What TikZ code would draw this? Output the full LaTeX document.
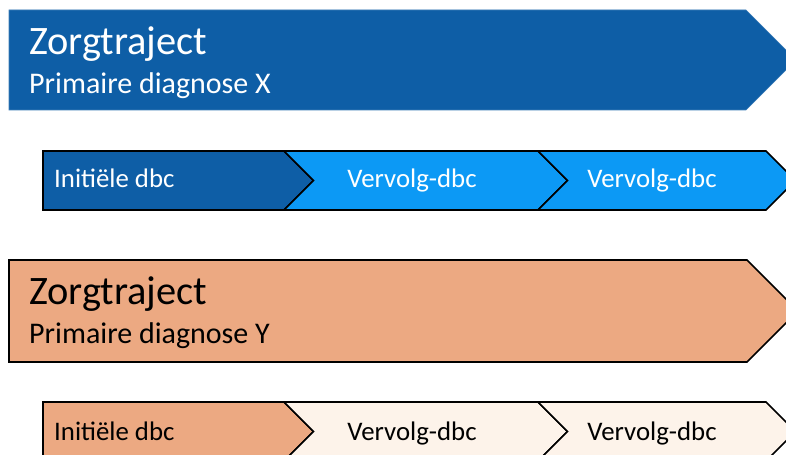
\documentclass[tikz,border=0pt]{standalone}
\usepackage{fontspec}
\setmainfont{Carlito}
\definecolor{dblue}{RGB}{14,94,166}
\definecolor{lblue}{RGB}{12,153,245}
\definecolor{orng}{RGB}{236,169,130}
\definecolor{cream}{RGB}{253,243,234}
\tikzset{
  bigtitle/.style={anchor=base west,inner sep=0pt,font=\fontsize{40.4bp}{44bp}\selectfont},
  subtitle/.style={anchor=base west,inner sep=0pt,font=\fontsize{30bp}{33bp}\selectfont},
  steplabel/.style={anchor=base,inner sep=0pt,font=\fontsize{26.8bp}{30bp}\selectfont},
  firstlabel/.style={anchor=base west,inner sep=0pt,font=\fontsize{26.8bp}{30bp}\selectfont},
  chev/.style={draw=black,line width=1.6bp,line join=miter},
}
\begin{document}
\begin{tikzpicture}[x=1bp,y=-1bp]
\clip (0,0) rectangle (786,455);
\fill[white] (0,0) rectangle (786,455);
% big blue arrow
\filldraw[fill=dblue,draw=dblue!80!white,line width=0.6bp]
  (9,10) -- (746,10) -- (796,60) -- (746,110) -- (9,110) -- cycle;
\node[bigtitle,text=white] (zx) at (29,55) {Zorgtraject};
\node[subtitle,text=white] (px) at (29,94) {Primaire diagnose X};
% blue chevrons
\filldraw[chev,fill=dblue] (43,151) -- (284,151) -- (313.5,180.5) -- (284,210) -- (43,210) -- cycle;
\filldraw[chev,fill=lblue] (284,151) -- (538,151) -- (567.5,180.5) -- (538,210) -- (284,210) -- (313.5,180.5) -- cycle;
\filldraw[chev,fill=lblue] (538,151) -- (766,151) -- (795.5,180.5) -- (766,210) -- (538,210) -- (567.5,180.5) -- cycle;
\node[firstlabel,text=white] (bx1) at (54,188) {Initiële dbc};
\node[steplabel,text=white] (bx2) at (412,188) {Vervolg-dbc};
\node[steplabel,text=white] (bx3) at (652,188) {Vervolg-dbc};
% big orange arrow
\filldraw[chev,fill=orng]
  (9,260) -- (747,260) -- (798,311) -- (747,362) -- (9,362) -- cycle;
\node[bigtitle,text=black] (zy) at (29,305) {Zorgtraject};
\node[subtitle,text=black] (py) at (29,344) {Primaire diagnose Y};
% orange chevrons
\filldraw[chev,fill=orng] (43,402) -- (284,402) -- (313.5,431.5) -- (284,461) -- (43,461) -- cycle;
\filldraw[chev,fill=cream] (284,402) -- (538,402) -- (567.5,431.5) -- (538,461) -- (284,461) -- (313.5,431.5) -- cycle;
\filldraw[chev,fill=cream] (538,402) -- (766,402) -- (795.5,431.5) -- (766,461) -- (538,461) -- (567.5,431.5) -- cycle;
\node[firstlabel,text=black] (oy1) at (54,440) {Initiële dbc};
\node[steplabel,text=black] (oy2) at (412,440) {Vervolg-dbc};
\node[steplabel,text=black] (oy3) at (652,440) {Vervolg-dbc};
\end{tikzpicture}
\end{document}
